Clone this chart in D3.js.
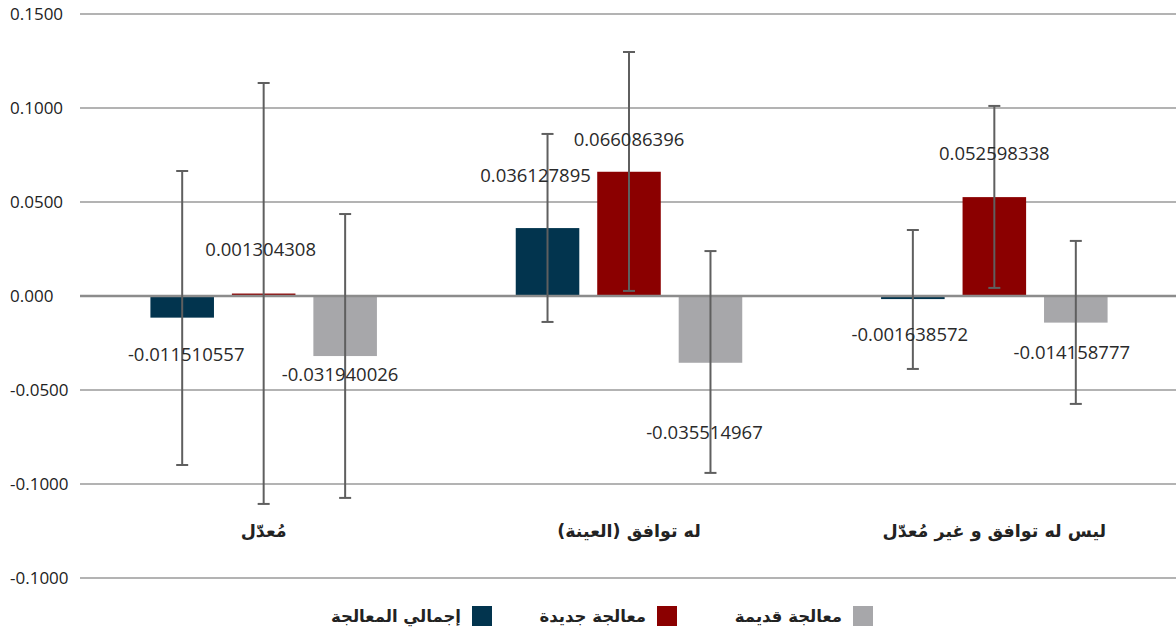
<!DOCTYPE html>
<html><head><meta charset="utf-8">
<script src="https://cdn.jsdelivr.net/npm/d3@7"></script>
<style>
html,body{margin:0;padding:0;background:#fff;}
svg{display:block;}
</style></head>
<body><svg id="c" width="1176" height="632"></svg>
<script>
// ---- data ----
const categories = ["مُعدّل", "له توافق (العينة)", "ليس له توافق و غير مُعدّل"];
const seriesNames = ["إجمالي المعالجة", "معالجة جديدة", "معالجة قديمة"];
const totalValues = [-0.011510557, 0.036127895, -0.001638572];
const newValues   = [0.001304308, 0.066086396, 0.052598338];
const oldValues   = [-0.031940026, -0.035514967, -0.014158777];
const totalErrLow  = [-0.0899, -0.0138, -0.0388];
const totalErrHigh = [0.0665, 0.0862, 0.0351];
const newErrLow    = [-0.1106, 0.0027, 0.0043];
const newErrHigh   = [0.1133, 0.1298, 0.1011];
const oldErrLow    = [-0.1074, -0.0941, -0.0574];
const oldErrHigh   = [0.0436, 0.0239, 0.0293];
const tickValues = [0.15, 0.10, 0.05, 0, -0.05, -0.10, -0.15];
const tickLabels = ["0.1500", "0.1000", "0.0500", "0.000", "-0.0500", "-0.1000", "-0.1000"];

// ---- layout / style (not data) ----
const colors = ["#02344e", "#8b0000", "#a7a7aa"];
// manual label offsets [dx, dy from bar end] per category per series
const labelOffsets = [
  [[4, 37], [-3, -44], [-5, 18]],
  [[-12, -53], [0, -32], [-6, 70]],
  [[-3, 35], [0, -44], [-4, 30]]
];

const values = [totalValues, newValues, oldValues];
const errLow = [totalErrLow, newErrLow, oldErrLow];
const errHigh = [totalErrHigh, newErrHigh, oldErrHigh];

const svg = d3.select("#c");
const W = 1176;
const y = d3.scaleLinear().domain([-0.15, 0.15]).range([578, 14]);
const x0 = d3.scaleBand().domain(d3.range(categories.length)).range([81, 1177])
  .paddingInner(0.38).paddingOuter(0.19);
const x1 = d3.scaleBand().domain(d3.range(seriesNames.length)).range([0, x0.bandwidth()])
  .paddingInner(0.22).paddingOuter(0);

// gridlines + tick labels
const yAxis = d3.axisLeft(y).tickValues(tickValues).tickSize(0)
  .tickFormat((d, i) => tickLabels[i]);
const gAxis = svg.append("g");
tickValues.forEach((t, i) => {
  if (t === 0) return;
  gAxis.append("line").attr("x1", 80).attr("x2", W)
    .attr("y1", y(t)).attr("y2", y(t))
    .attr("stroke", "#9a9a9a").attr("stroke-width", 1.6);
});
const gTicks = svg.append("g").call(yAxis);
gTicks.select(".domain").remove();
gTicks.selectAll("text")
  .attr("x", 10).attr("dy", "0.35em")
  .attr("text-anchor", "start")
  .attr("font-family", "'Open Sans', sans-serif").attr("font-size", 17)
  .attr("fill", "#222");

// bars
const gBars = svg.append("g");
categories.forEach((c, ci) => {
  seriesNames.forEach((s, si) => {
    const v = values[si][ci];
    const bx = x0(ci) + x1(si);
    gBars.append("rect")
      .attr("x", bx).attr("width", x1.bandwidth())
      .attr("y", Math.min(y(v), y(0)))
      .attr("height", Math.max(Math.abs(y(v) - y(0)), 2))
      .attr("fill", colors[si]);
  });
});

// zero line
svg.append("line").attr("x1", 80).attr("x2", W).attr("y1", y(0)).attr("y2", y(0))
  .attr("stroke", "#8c8c8c").attr("stroke-width", 2.6);

// error bars
const gErr = svg.append("g").attr("stroke", "#5f5f5f").attr("stroke-width", 2);
categories.forEach((c, ci) => {
  seriesNames.forEach((s, si) => {
    const cx = x0(ci) + x1(si) + x1.bandwidth() / 2;
    const lo = y(errLow[si][ci]), hi = y(errHigh[si][ci]);
    gErr.append("line").attr("x1", cx).attr("x2", cx).attr("y1", hi).attr("y2", lo);
    gErr.append("line").attr("x1", cx - 6).attr("x2", cx + 6).attr("y1", hi).attr("y2", hi);
    gErr.append("line").attr("x1", cx - 6).attr("x2", cx + 6).attr("y1", lo).attr("y2", lo);
  });
});

// value labels
const gLab = svg.append("g");
categories.forEach((c, ci) => {
  seriesNames.forEach((s, si) => {
    const v = values[si][ci];
    const cx = x0(ci) + x1(si) + x1.bandwidth() / 2;
    const off = labelOffsets[ci][si];
    gLab.append("text")
      .attr("x", cx + off[0]).attr("y", y(v) + off[1]).attr("dy", "0.35em")
      .attr("text-anchor", "middle")
      .attr("font-family", "'Open Sans', sans-serif").attr("font-size", 18.5)
      .attr("fill", "#2a2a2a")
      .text(v.toFixed(9));
  });
});

// category labels
categories.forEach((c, ci) => {
  svg.append("text")
    .attr("x", x0(ci) + x0.bandwidth() / 2).attr("y", 531).attr("dy", "0.35em")
    .attr("text-anchor", "middle").attr("direction", "rtl")
    .style("direction", "rtl").style("unicode-bidi", "embed")
    .attr("font-family", "'DejaVu Sans', sans-serif").attr("font-weight", "bold")
    .attr("font-size", 17.5).attr("fill", "#222")
    .text(c);
});

// legend
const legendSquareX = [472, 657, 853];
const gLeg = svg.append("g");
seriesNames.forEach((s, si) => {
  gLeg.append("rect").attr("x", legendSquareX[si]).attr("y", 606)
    .attr("width", 20).attr("height", 20).attr("fill", colors[si]);
  gLeg.append("text").attr("x", legendSquareX[si] - 11).attr("y", 616).attr("dy", "0.35em")
    .attr("text-anchor", "end")
    .attr("font-family", "'DejaVu Sans', sans-serif").attr("font-weight", "bold")
    .attr("font-size", 16.5).attr("fill", "#222")
    .text(s);
});
</script></body></html>
